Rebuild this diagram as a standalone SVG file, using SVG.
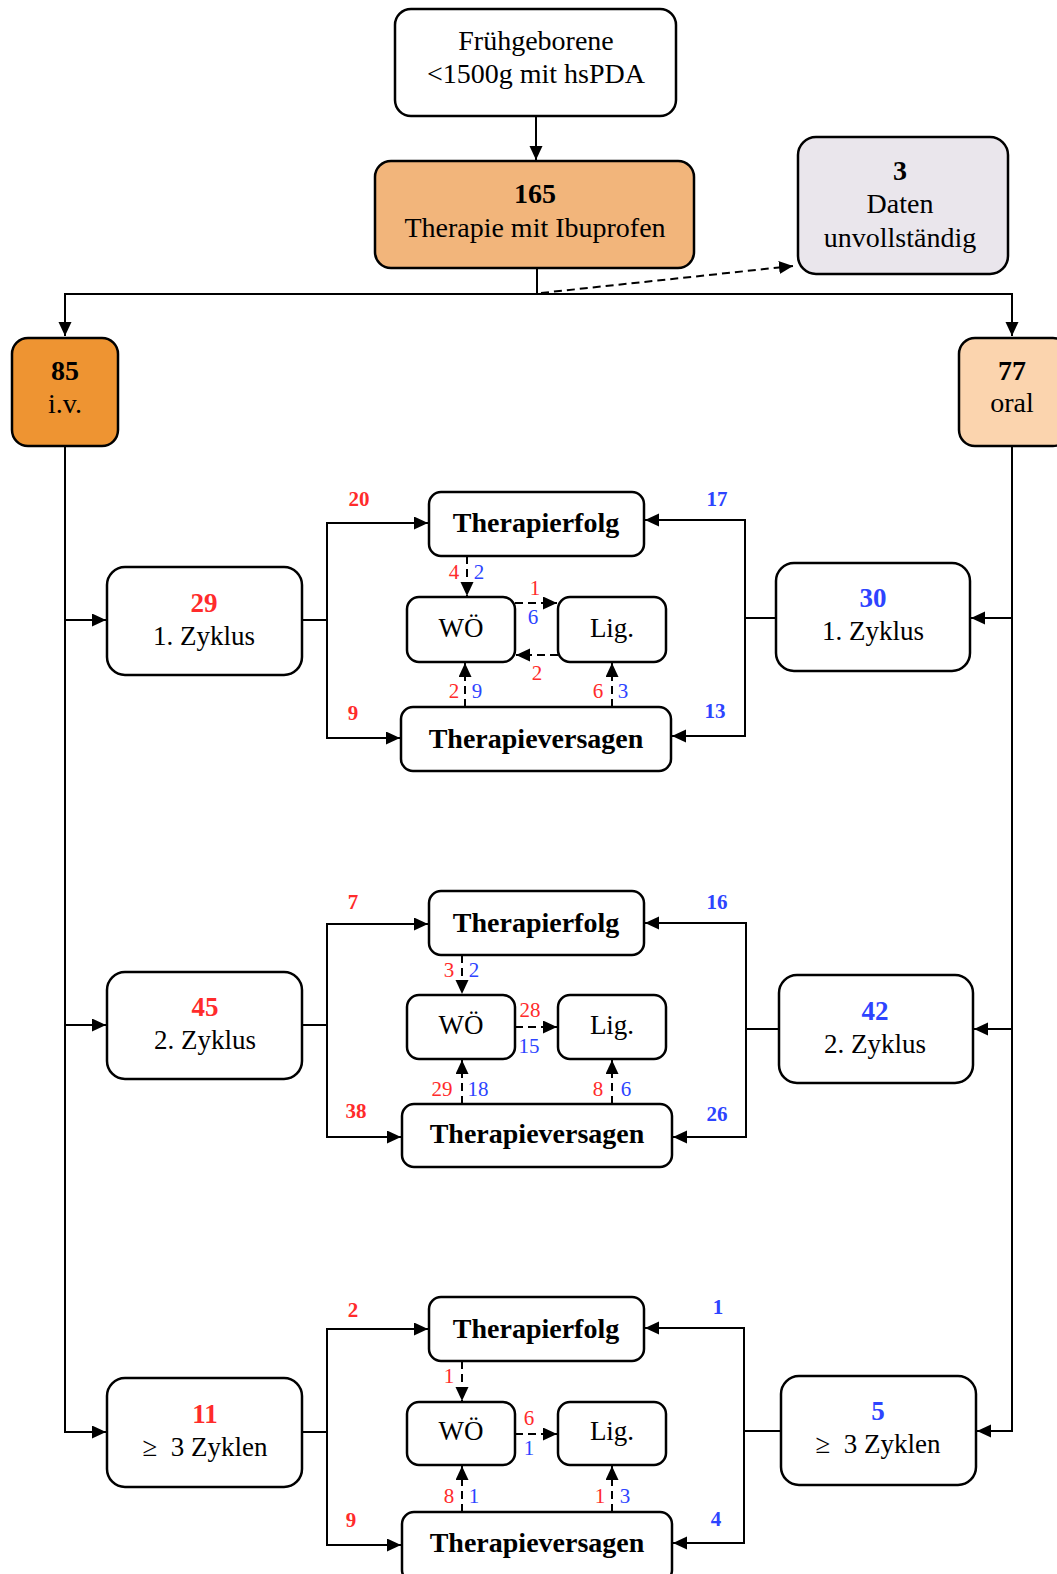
<svg xmlns="http://www.w3.org/2000/svg" width="1057" height="1574" viewBox="0 0 1057 1574">
<defs>
<marker id="ah" markerUnits="userSpaceOnUse" markerWidth="16" markerHeight="14" refX="14" refY="6.5" orient="auto"><path d="M0,0 L14,6.5 L0,13 z" fill="#000"/></marker>
<style>
text{font-family:"Liberation Serif","Times New Roman",serif;text-anchor:middle;fill:#000}
.box{fill:#fff;stroke:#000;stroke-width:2.5}
.big{font-size:28px}
.cyc{font-size:27px}
.b{font-weight:bold}
.lab{font-size:21px}
.r{fill:#FF2B2B}
.bl{fill:#2D44FF}
.ln{fill:none;stroke:#000;stroke-width:2}
.ar{fill:none;stroke:#000;stroke-width:2;marker-end:url(#ah)}
.da{fill:none;stroke:#000;stroke-width:2;stroke-dasharray:8,5;marker-end:url(#ah)}
</style>
</defs>
<rect width="1057" height="1574" fill="#fff"/>

<g id="connectors">
<path class="ar" d="M536,116 V160"/>
<path class="ln" d="M537,268 V294"/>
<path class="ar" d="M537,294 H65 V336"/>
<path class="ar" d="M537,294 H1012 V336"/>
<path class="da" d="M541,293 L793,266"/>
<path class="ar" d="M65,446 V1432 H106"/>
<path class="ar" d="M65,620 H106"/>
<path class="ar" d="M65,1025 H106"/>
<path class="ar" d="M1012,446 V1431 H977"/>
<path class="ar" d="M1012,618 H971"/>
<path class="ar" d="M1012,1029 H974"/>

<path class="ln" d="M302,620 H327"/>
<path class="ar" d="M327,620 V523 H428"/>
<path class="ar" d="M327,620 V738 H400"/>
<path class="ln" d="M776,618 H745"/>
<path class="ar" d="M745,618 V520 H645"/>
<path class="ar" d="M745,618 V736 H672"/>
<path class="da" d="M467,556 V596"/>
<path class="da" d="M515,603 H557"/>
<path class="da" d="M558,655 H516"/>
<path class="da" d="M465,707 V663"/>
<path class="da" d="M612,707 V663"/>

<path class="ln" d="M302,1025 H327"/>
<path class="ar" d="M327,1025 V924 H428"/>
<path class="ar" d="M327,1025 V1137 H401"/>
<path class="ln" d="M779,1029 H746"/>
<path class="ar" d="M746,1029 V923 H645"/>
<path class="ar" d="M746,1029 V1137 H673"/>
<path class="da" d="M462,955 V994"/>
<path class="da" d="M515,1027 H557"/>
<path class="da" d="M462,1104 V1060"/>
<path class="da" d="M612,1104 V1060"/>

<path class="ln" d="M302,1432 H327"/>
<path class="ar" d="M327,1432 V1329 H428"/>
<path class="ar" d="M327,1432 V1545 H401"/>
<path class="ln" d="M781,1431 H744"/>
<path class="ar" d="M744,1431 V1328 H645"/>
<path class="ar" d="M744,1431 V1543 H673"/>
<path class="da" d="M462,1361 V1401"/>
<path class="da" d="M515,1434 H557"/>
<path class="da" d="M462,1512 V1466"/>
<path class="da" d="M612,1512 V1466"/>
</g>

<g id="start">
<rect class="box" x="395" y="9" width="281" height="107" rx="16"/>
<text class="big" x="536" y="50">Frühgeborene</text>
<text class="big" x="536" y="83">&lt;1500g mit hsPDA</text>
</g>
<g id="ibuprofen">
<rect class="box" x="375" y="161" width="319" height="107" rx="16" fill="#F2B57B" style="fill:#F2B57B"/>
<text class="big b" x="535" y="203">165</text>
<text class="big" x="535" y="237">Therapie mit Ibuprofen</text>
</g>
<g id="unvollstaendig">
<rect class="box" x="798" y="137" width="210" height="137" rx="18" style="fill:#EAE6EC"/>
<text class="big b" x="900" y="180">3</text>
<text class="big" x="900" y="213">Daten</text>
<text class="big" x="900" y="247">unvollständig</text>
</g>
<g id="iv">
<rect class="box" x="12" y="338" width="106" height="108" rx="16" style="fill:#EE9432"/>
<text class="big b" x="65" y="380">85</text>
<text class="big" x="65" y="413">i.v.</text>
</g>
<g id="oral">
<rect class="box" x="959" y="338" width="110" height="108" rx="16" style="fill:#FBD4AE"/>
<text class="big b" x="1012" y="380">77</text>
<text class="big" x="1012" y="412">oral</text>
</g>

<!-- Section 1 -->
<g id="iv-z1">
<rect class="box" x="107" y="567" width="195" height="108" rx="18"/>
<text class="cyc b r" x="204" y="612">29</text>
<text class="cyc" x="204" y="645">1. Zyklus</text>
</g>
<g id="oral-z1">
<rect class="box" x="776" y="563" width="194" height="108" rx="18"/>
<text class="cyc b bl" x="873" y="607">30</text>
<text class="cyc" x="873" y="640">1. Zyklus</text>
</g>
<g id="erfolg1">
<rect class="box" x="429" y="492" width="215" height="64" rx="12"/>
<text class="big b" x="536" y="532">Therapierfolg</text>
</g>
<g id="woe1">
<rect class="box" x="407" y="597" width="108" height="65" rx="12"/>
<text class="cyc" x="461" y="637">WÖ</text>
</g>
<g id="lig1">
<rect class="box" x="558" y="597" width="108" height="65" rx="12"/>
<text class="cyc" x="612" y="637">Lig.</text>
</g>
<g id="versagen1">
<rect class="box" x="401" y="707" width="270" height="64" rx="12"/>
<text class="big b" x="536" y="748">Therapieversagen</text>
</g>
<g id="labels1">
<text class="lab b r" x="359" y="506">20</text>
<text class="lab b bl" x="717" y="506">17</text>
<text class="lab b r" x="353" y="720">9</text>
<text class="lab b bl" x="715" y="718">13</text>
<text class="lab r" x="454" y="579">4</text>
<text class="lab bl" x="479" y="579">2</text>
<text class="lab r" x="535" y="595">1</text>
<text class="lab bl" x="533" y="624">6</text>
<text class="lab r" x="537" y="680">2</text>
<text class="lab r" x="454" y="698">2</text>
<text class="lab bl" x="477" y="698">9</text>
<text class="lab r" x="598" y="698">6</text>
<text class="lab bl" x="623" y="698">3</text>
</g>

<!-- Section 2 -->
<g id="iv-z2">
<rect class="box" x="107" y="972" width="195" height="107" rx="18"/>
<text class="cyc b r" x="205" y="1016">45</text>
<text class="cyc" x="205" y="1049">2. Zyklus</text>
</g>
<g id="oral-z2">
<rect class="box" x="779" y="975" width="194" height="108" rx="18"/>
<text class="cyc b bl" x="875" y="1020">42</text>
<text class="cyc" x="875" y="1053">2. Zyklus</text>
</g>
<g id="erfolg2">
<rect class="box" x="429" y="891" width="215" height="64" rx="12"/>
<text class="big b" x="536" y="932">Therapierfolg</text>
</g>
<g id="woe2">
<rect class="box" x="407" y="995" width="108" height="64" rx="12"/>
<text class="cyc" x="461" y="1034">WÖ</text>
</g>
<g id="lig2">
<rect class="box" x="558" y="995" width="108" height="64" rx="12"/>
<text class="cyc" x="612" y="1034">Lig.</text>
</g>
<g id="versagen2">
<rect class="box" x="402" y="1104" width="270" height="63" rx="12"/>
<text class="big b" x="537" y="1143">Therapieversagen</text>
</g>
<g id="labels2">
<text class="lab b r" x="353" y="909">7</text>
<text class="lab b bl" x="717" y="909">16</text>
<text class="lab b r" x="356" y="1118">38</text>
<text class="lab b bl" x="717" y="1121">26</text>
<text class="lab r" x="449" y="977">3</text>
<text class="lab bl" x="474" y="977">2</text>
<text class="lab r" x="530" y="1017">28</text>
<text class="lab bl" x="529" y="1053">15</text>
<text class="lab r" x="442" y="1096">29</text>
<text class="lab bl" x="478" y="1096">18</text>
<text class="lab r" x="598" y="1096">8</text>
<text class="lab bl" x="626" y="1096">6</text>
</g>

<!-- Section 3 -->
<g id="iv-z3">
<rect class="box" x="107" y="1378" width="195" height="109" rx="18"/>
<text class="cyc b r" x="205" y="1423">11</text>
<text class="cyc" x="205" y="1456" style="white-space:pre">≥  3 Zyklen</text>
</g>
<g id="oral-z3">
<rect class="box" x="781" y="1376" width="195" height="109" rx="18"/>
<text class="cyc b bl" x="878" y="1420">5</text>
<text class="cyc" x="878" y="1453" style="white-space:pre">≥  3 Zyklen</text>
</g>
<g id="erfolg3">
<rect class="box" x="429" y="1297" width="215" height="64" rx="12"/>
<text class="big b" x="536" y="1338">Therapierfolg</text>
</g>
<g id="woe3">
<rect class="box" x="407" y="1402" width="108" height="63" rx="12"/>
<text class="cyc" x="461" y="1440">WÖ</text>
</g>
<g id="lig3">
<rect class="box" x="558" y="1402" width="108" height="63" rx="12"/>
<text class="cyc" x="612" y="1440">Lig.</text>
</g>
<g id="versagen3">
<rect class="box" x="402" y="1512" width="270" height="70" rx="12"/>
<text class="big b" x="537" y="1552">Therapieversagen</text>
</g>
<g id="labels3">
<text class="lab b r" x="353" y="1317">2</text>
<text class="lab b bl" x="718" y="1314">1</text>
<text class="lab b r" x="351" y="1527">9</text>
<text class="lab b bl" x="716" y="1526">4</text>
<text class="lab r" x="449" y="1383">1</text>
<text class="lab r" x="529" y="1425">6</text>
<text class="lab bl" x="529" y="1455">1</text>
<text class="lab r" x="449" y="1503">8</text>
<text class="lab bl" x="474" y="1503">1</text>
<text class="lab r" x="600" y="1503">1</text>
<text class="lab bl" x="625" y="1503">3</text>
</g>
</svg>
